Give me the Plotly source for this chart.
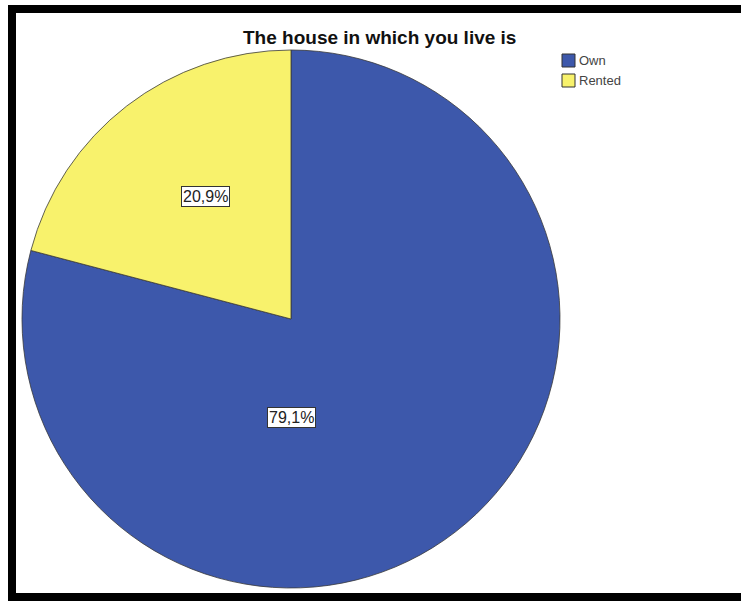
import plotly.graph_objects as go

# Survey answer: "The house in which you live is"
categories = ["Own", "Rented"]
shares = [79.1, 20.9]
slice_colors = ["#3d58ab", "#f8f26c"]
title_text = "The house in which you live is"

W, H = 741, 601


def px(x):
    return x / W


def py(y):
    return 1 - y / H


# pie occupies a 538 px square whose centre sits at (291, 319)
cx, cy, r = 291, 319, 269

fig = go.Figure(
    go.Pie(
        labels=categories,
        values=shares,
        marker=dict(colors=slice_colors, line=dict(color="#3a3a3a", width=0.8)),
        sort=False,
        direction="clockwise",
        rotation=0,
        textinfo="none",
        hoverinfo="label+percent",
        showlegend=False,
        domain=dict(x=[px(cx - r), px(cx + r)], y=[py(cy + r), py(cy - r)]),
    )
)

annotations = []
shapes = []

# title
annotations.append(dict(
    text="<b>" + title_text + "</b>", x=px(379), y=py(38), xref="paper", yref="paper",
    xanchor="center", yanchor="middle", showarrow=False,
    font=dict(family="Arial, Liberation Sans, sans-serif", size=19, color="#111111"),
))

# value labels in white boxes
label_pos = {"Own": (291, 417), "Rented": (205, 197)}
for name, val in zip(categories, shares):
    lx, ly = label_pos[name]
    annotations.append(dict(
        text=f"{val:.1f}%".replace(".", ","), x=px(lx), y=py(ly),
        xref="paper", yref="paper", xanchor="center", yanchor="middle",
        showarrow=False, bgcolor="white", bordercolor="#333333", borderwidth=1,
        borderpad=1,
        font=dict(family="Arial, Liberation Sans, sans-serif", size=16, color="#222222"),
    ))

# legend: colour swatch followed by the category name
for i, (name, col) in enumerate(zip(categories, slice_colors)):
    top = 54 + i * 20
    shapes.append(dict(
        type="rect", xref="paper", yref="paper",
        x0=px(562), x1=px(575), y0=py(top + 13), y1=py(top),
        fillcolor=col, line=dict(color="#333333", width=1),
    ))
    annotations.append(dict(
        text=name, x=px(577), y=py(top + 6.5), xref="paper", yref="paper",
        xanchor="left", yanchor="middle", showarrow=False,
        font=dict(family="Arial, Liberation Sans, sans-serif", size=13, color="#444444"),
    ))

# black frame (top, left and bottom bands)
for x0, y0, x1, y1 in [(8, 5, W, 13), (8, 5, 16, H), (8, 593, W, H)]:
    shapes.append(dict(
        type="rect", xref="paper", yref="paper",
        x0=px(x0), x1=px(x1), y0=py(y1), y1=py(y0),
        fillcolor="black", line=dict(width=0),
    ))

fig.update_layout(
    width=W, height=H,
    margin=dict(l=0, r=0, t=0, b=0),
    paper_bgcolor="white", plot_bgcolor="white",
    annotations=annotations, shapes=shapes,
    showlegend=False,
)

fig.write_html("out.html")
